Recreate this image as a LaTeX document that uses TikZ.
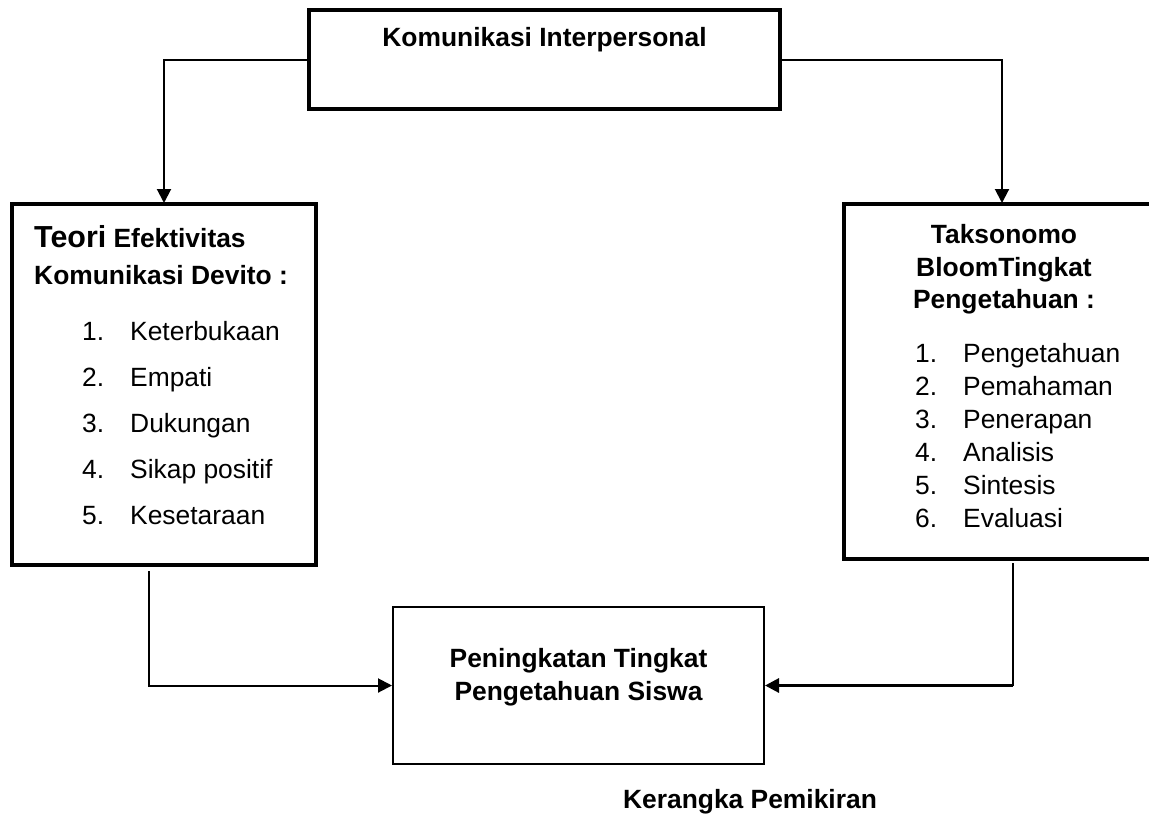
\documentclass[tikz,border=0pt]{standalone}
\usepackage{fontspec}
\setmainfont{Liberation Sans}
\usetikzlibrary{arrows.meta,calc}
\begin{document}
\begin{tikzpicture}[x=1pt,y=-1pt,
  box/.style={draw, rectangle, inner sep=0pt, outer sep=0pt, anchor=north west},
  conn/.style={draw, line width=2pt, shorten >=1pt, -{Triangle[length=14pt,width=14pt]}},
  hd/.style={font=\fontsize{26.4}{30}\selectfont\bfseries, inner sep=0pt},
  it/.style={font=\fontsize{26.4}{30}\selectfont, inner sep=0pt, anchor=base west}]
\useasboundingbox (0,0) rectangle (1149,815);
\clip (0,0) rectangle (1149,815);
% boxes
\node[box, line width=3.5pt, minimum width=471pt, minimum height=99pt] (top) at (309,10) {};
\node[box, line width=3.5pt, minimum width=304pt, minimum height=361pt] (left) at (12,204) {};
\node[box, line width=3.5pt, minimum width=316pt, minimum height=355pt] (right) at (844,204) {};
\node[box, line width=2.5pt, minimum width=371pt, minimum height=157pt] (bottom) at (393,607) {};
% connectors
\draw[conn] (top.west) -| (left.north);
\draw[conn] (top.east) -| (right.north);
\draw[conn] ($(left.south)+(-15,6)$) |- (bottom.west);
\coordinate (rb) at ($(right.south)+(11,4)$);
\coordinate (rc) at (rb |- bottom.east);
\draw[line width=2pt] (rb) -- (rc);
\draw[conn, line width=3pt] (rc) -- (bottom.east);
% texts
\node[hd, anchor=base] (t0) at (544.5,46) {Komunikasi Interpersonal};
\node[hd, anchor=base west] (l0) at (34,247) {{\fontsize{30.4}{34}\selectfont Teori} Efektivitas};
\node[hd, anchor=base west] (l1) at (34,284) {Komunikasi Devito :};
\foreach \t [count=\i] in {Keterbukaan,Empati,Dukungan,Sikap positif,Kesetaraan}{
  \node[it] (ln\i) at (82,{340+46*(\i-1)}) {\i.};
  \node[it] (lt\i) at (130,{340+46*(\i-1)}) {\t};
}
\node[hd, anchor=base] (r0) at (1004,243) {Taksonomo};
\node[hd, anchor=base] (r1) at (1004,276) {BloomTingkat};
\node[hd, anchor=base] (r2) at (1004,308) {Pengetahuan :};
\foreach \t [count=\i] in {Pengetahuan,Pemahaman,Penerapan,Analisis,Sintesis,Evaluasi}{
  \node[it] (rn\i) at (915,{362+33*(\i-1)}) {\i.};
  \node[it] (rt\i) at (963,{362+33*(\i-1)}) {\t};
}
\node[hd, anchor=base] (b0) at (578.5,667) {Peningkatan Tingkat};
\node[hd, anchor=base] (b1) at (578.5,700) {Pengetahuan Siswa};
\node[hd, anchor=base] (cap) at (750,808) {Kerangka Pemikiran};
\end{tikzpicture}
\end{document}
